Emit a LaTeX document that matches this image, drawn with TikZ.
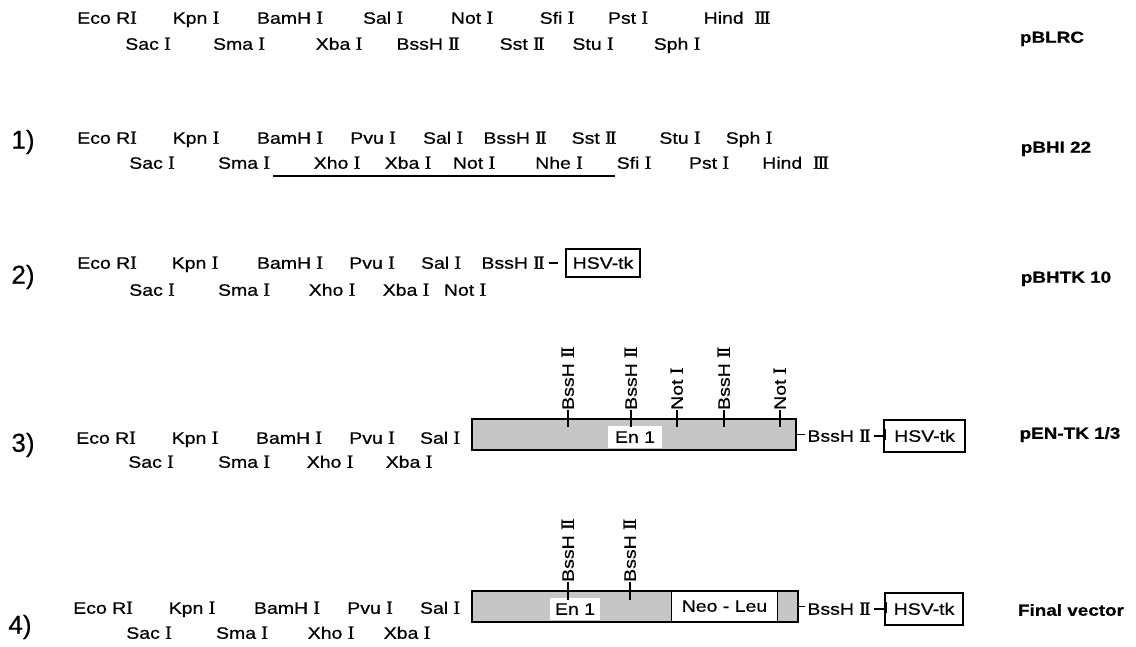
\documentclass[tikz,border=0pt]{standalone}
\usepackage{fontspec}
\setmainfont{Liberation Sans}[FakeStretch=1.18, FakeBold=0.6]
\newfontfamily\romf{Liberation Serif}[FakeStretch=1.05, FakeBold=1.2, Scale=1.12]
\newfontfamily\numf{Liberation Sans}[FakeBold=0.4]
\newcommand\rnum[1]{{\romf #1}}
\newcommand\RI{\rnum{I}}
\newcommand\RII{\rnum{I\kern-1.8pt I}}
\newcommand\RIII{\rnum{I\kern-1.8pt I\kern-1.8pt I}}
\begin{document}
\begin{tikzpicture}[x=1pt,y=-1pt,
  site/.style={inner sep=0pt, text height=11.5pt, text depth=0pt, font=\fontsize{16.5}{16.5}\selectfont},
  vlab/.style={site, rotate=90, anchor=west},
  vname/.style={inner sep=0pt, text height=11.5pt, text depth=0pt, font=\bfseries\fontsize{16}{16}\selectfont},
  rownum/.style={inner sep=0pt, font=\numf\fontsize{26}{26}\selectfont},
  gbox/.style={draw, line width=1.4pt, fill=gray!45, inner sep=0pt, anchor=north west},
  hsv/.style={draw, line width=1.4pt, inner sep=0pt, font=\fontsize{16.5}{16.5}\selectfont, text height=11.5pt, text depth=0pt},
  wpatch/.style={fill=white, inner sep=0pt, font=\fontsize{16.5}{16.5}\selectfont, text height=11.5pt, text depth=0pt},
  tick/.style={line width=1.1pt},
  conn/.style={line width=1.1pt}]
\fill[white] (0,0) rectangle (1136,647);
\useasboundingbox (0,0) rectangle (1136,647);

% ---------------- row 0: pBLRC
\node[site] (r0a) at (107,18) {Eco R\RI};
\node[site] (r0b) at (196,18) {Kpn \RI};
\node[site] (r0c) at (290,18) {BamH \RI};
\node[site] (r0d) at (383,18) {Sal \RI};
\node[site] (r0e) at (472,18) {Not \RI};
\node[site] (r0f) at (557,18) {Sfi \RI};
\node[site] (r0g) at (628,18) {Pst \RI};
\node[site] (r0h) at (737,18) {Hind\ \ \RIII};
\node[site] (r0i) at (148,44) {Sac \RI};
\node[site] (r0j) at (239,44) {Sma \RI};
\node[site] (r0k) at (339,44) {Xba \RI};
\node[site] (r0l) at (428,44) {BssH \RII};
\node[site] (r0m) at (522,44) {Sst \RII};
\node[site] (r0n) at (593,44) {Stu \RI};
\node[site] (r0o) at (677,44) {Sph \RI};
\node[vname] (n0) at (1052,37) {pBLRC};

% ---------------- row 1: pBHI 22
\node[rownum] (k1) at (23,142) {1)};
\node[site] (r1a) at (107,138) {Eco R\RI};
\node[site] (r1b) at (196,138) {Kpn \RI};
\node[site] (r1c) at (290,138) {BamH \RI};
\node[site] (r1d) at (373,138) {Pvu \RI};
\node[site] (r1e) at (443,138) {Sal \RI};
\node[site] (r1f) at (515,138) {BssH \RII};
\node[site] (r1g) at (594,138) {Sst \RII};
\node[site] (r1h) at (680,138) {Stu \RI};
\node[site] (r1i) at (749,138) {Sph \RI};
\node[site] (r1j) at (152,163) {Sac \RI};
\node[site] (r1k) at (244,163) {Sma \RI};
\node[site] (r1l) at (337,163) {Xho \RI};
\node[site] (r1m) at (408,163) {Xba \RI};
\node[site] (r1n) at (474,163) {Not \RI};
\node[site] (r1o) at (559,163) {Nhe \RI};
\node[site] (r1p) at (634,163) {Sfi \RI};
\node[site] (r1q) at (709,163) {Pst \RI};
\node[site, anchor=west] (r1r) at (762,163) {Hind\ \ \RIII};
\coordinate (u1) at (273,176);
\coordinate (u2) at (615,176);
\draw[line width=1.4pt] (u1) -- (u2);
\node[vname] (n1) at (1056,147) {pBHI 22};

% ---------------- row 2: pBHTK 10
\node[rownum] (k2) at (23,277) {2)};
\node[site] (r2a) at (107,263) {Eco R\RI};
\node[site] (r2b) at (195,263) {Kpn \RI};
\node[site] (r2c) at (290,263) {BamH \RI};
\node[site] (r2d) at (372,263) {Pvu \RI};
\node[site] (r2e) at (441,263) {Sal \RI};
\node[site] (r2f) at (513,263) {BssH \RII};
\node[hsv, minimum width=74pt, minimum height=28pt] (h2) at (603,263) {HSV-tk};
\draw[conn, shorten <=4pt, shorten >=7pt] (r2f) -- (h2);
\node[site] (r2g) at (152,290) {Sac \RI};
\node[site] (r2h) at (244,290) {Sma \RI};
\node[site] (r2i) at (332,290) {Xho \RI};
\node[site] (r2j) at (406,290) {Xba \RI};
\node[site] (r2k) at (465,290) {Not \RI};
\node[vname] (n2) at (1066,277) {pBHTK 10};

% ---------------- row 3: pEN-TK 1/3
\node[rownum] (k3) at (23,445) {3)};
\node[site] (r3a) at (106,438) {Eco R\RI};
\node[site] (r3b) at (195,438) {Kpn \RI};
\node[site] (r3c) at (289,438) {BamH \RI};
\node[site] (r3d) at (372,438) {Pvu \RI};
\node[site] (r3e) at (440,438) {Sal \RI};
\node[site] (r3f) at (151,462) {Sac \RI};
\node[site] (r3g) at (244,462) {Sma \RI};
\node[site] (r3h) at (330,462) {Xho \RI};
\node[site] (r3i) at (409,462) {Xba \RI};
\node[gbox, minimum width=323pt, minimum height=30pt] (b3) at (472,419) {};
\node[wpatch, minimum width=54pt, minimum height=22pt] (e3) at (635,437) {En 1};
\draw[line width=1.4pt] (b3.north west) rectangle (b3.south east);
\foreach \x/\lab [count=\i] in {568/{BssH \RII}, 631/{BssH \RII}, 677/{Not \RI}, 724/{BssH \RII}, 780/{Not \RI}}{
  \coordinate (t3\i) at (\x,410);
  \draw[tick] (t3\i) -- ++(0,17);
  \node[vlab] (l3\i) at (t3\i) {\lab};
}
\node[site] (s3) at (839,436) {BssH \RII};
\node[hsv, minimum width=81pt, minimum height=32pt] (h3) at (924.5,436) {HSV-tk};
\draw[conn] (b3.east) -- ([xshift=-2pt]b3.east -| s3.west);
\draw[conn] ([xshift=3pt]s3.east) -- (s3.east -| h3.west);
\draw[tick] ([xshift=2.5pt,yshift=-4pt]h3.west) -- ([xshift=2.5pt,yshift=7pt]h3.west);
\node[vname] (n3) at (1070,433) {pEN-TK 1/3};

% ---------------- row 4: Final vector
\node[rownum] (k4) at (20,627) {4)};
\node[site] (r4a) at (103,608) {Eco R\RI};
\node[site] (r4b) at (192,608) {Kpn \RI};
\node[site] (r4c) at (287,608) {BamH \RI};
\node[site] (r4d) at (370,608) {Pvu \RI};
\node[site] (r4e) at (440,608) {Sal \RI};
\node[site] (r4f) at (149,633) {Sac \RI};
\node[site] (r4g) at (242,633) {Sma \RI};
\node[site] (r4h) at (331,633) {Xho \RI};
\node[site] (r4i) at (407,633) {Xba \RI};
\node[gbox, minimum width=325pt, minimum height=30pt] (b4) at (472,591) {};
\node[wpatch, minimum width=50pt, minimum height=22pt] (e4) at (575,609) {En 1};
\node[wpatch, minimum width=105pt, minimum height=30pt] (neo) at (724.5,606) {Neo - Leu};
\draw[line width=1.1pt] (neo.north west) -- (neo.south west);
\draw[line width=1.1pt] (neo.north east) -- (neo.south east);
\draw[line width=1.4pt] (b4.north west) rectangle (b4.south east);
\foreach \x [count=\i] in {568,630}{
  \coordinate (t4\i) at (\x,582);
  \draw[tick] (t4\i) -- ++(0,18);
  \node[vlab] (l4\i) at (t4\i) {BssH \RII};
}
\node[site] (s4) at (839,609) {BssH \RII};
\node[hsv, minimum width=78pt, minimum height=32pt] (h4) at (924,609) {HSV-tk};
\draw[conn] (b4.east) -- ([xshift=-2pt]b4.east -| s4.west);
\draw[conn] ([xshift=3pt]s4.east) -- (s4.east -| h4.west);
\draw[tick] ([xshift=2.5pt,yshift=-4pt]h4.west) -- ([xshift=2.5pt,yshift=7pt]h4.west);
\node[vname] (n4) at (1071,610) {Final vector};
\end{tikzpicture}
\end{document}
